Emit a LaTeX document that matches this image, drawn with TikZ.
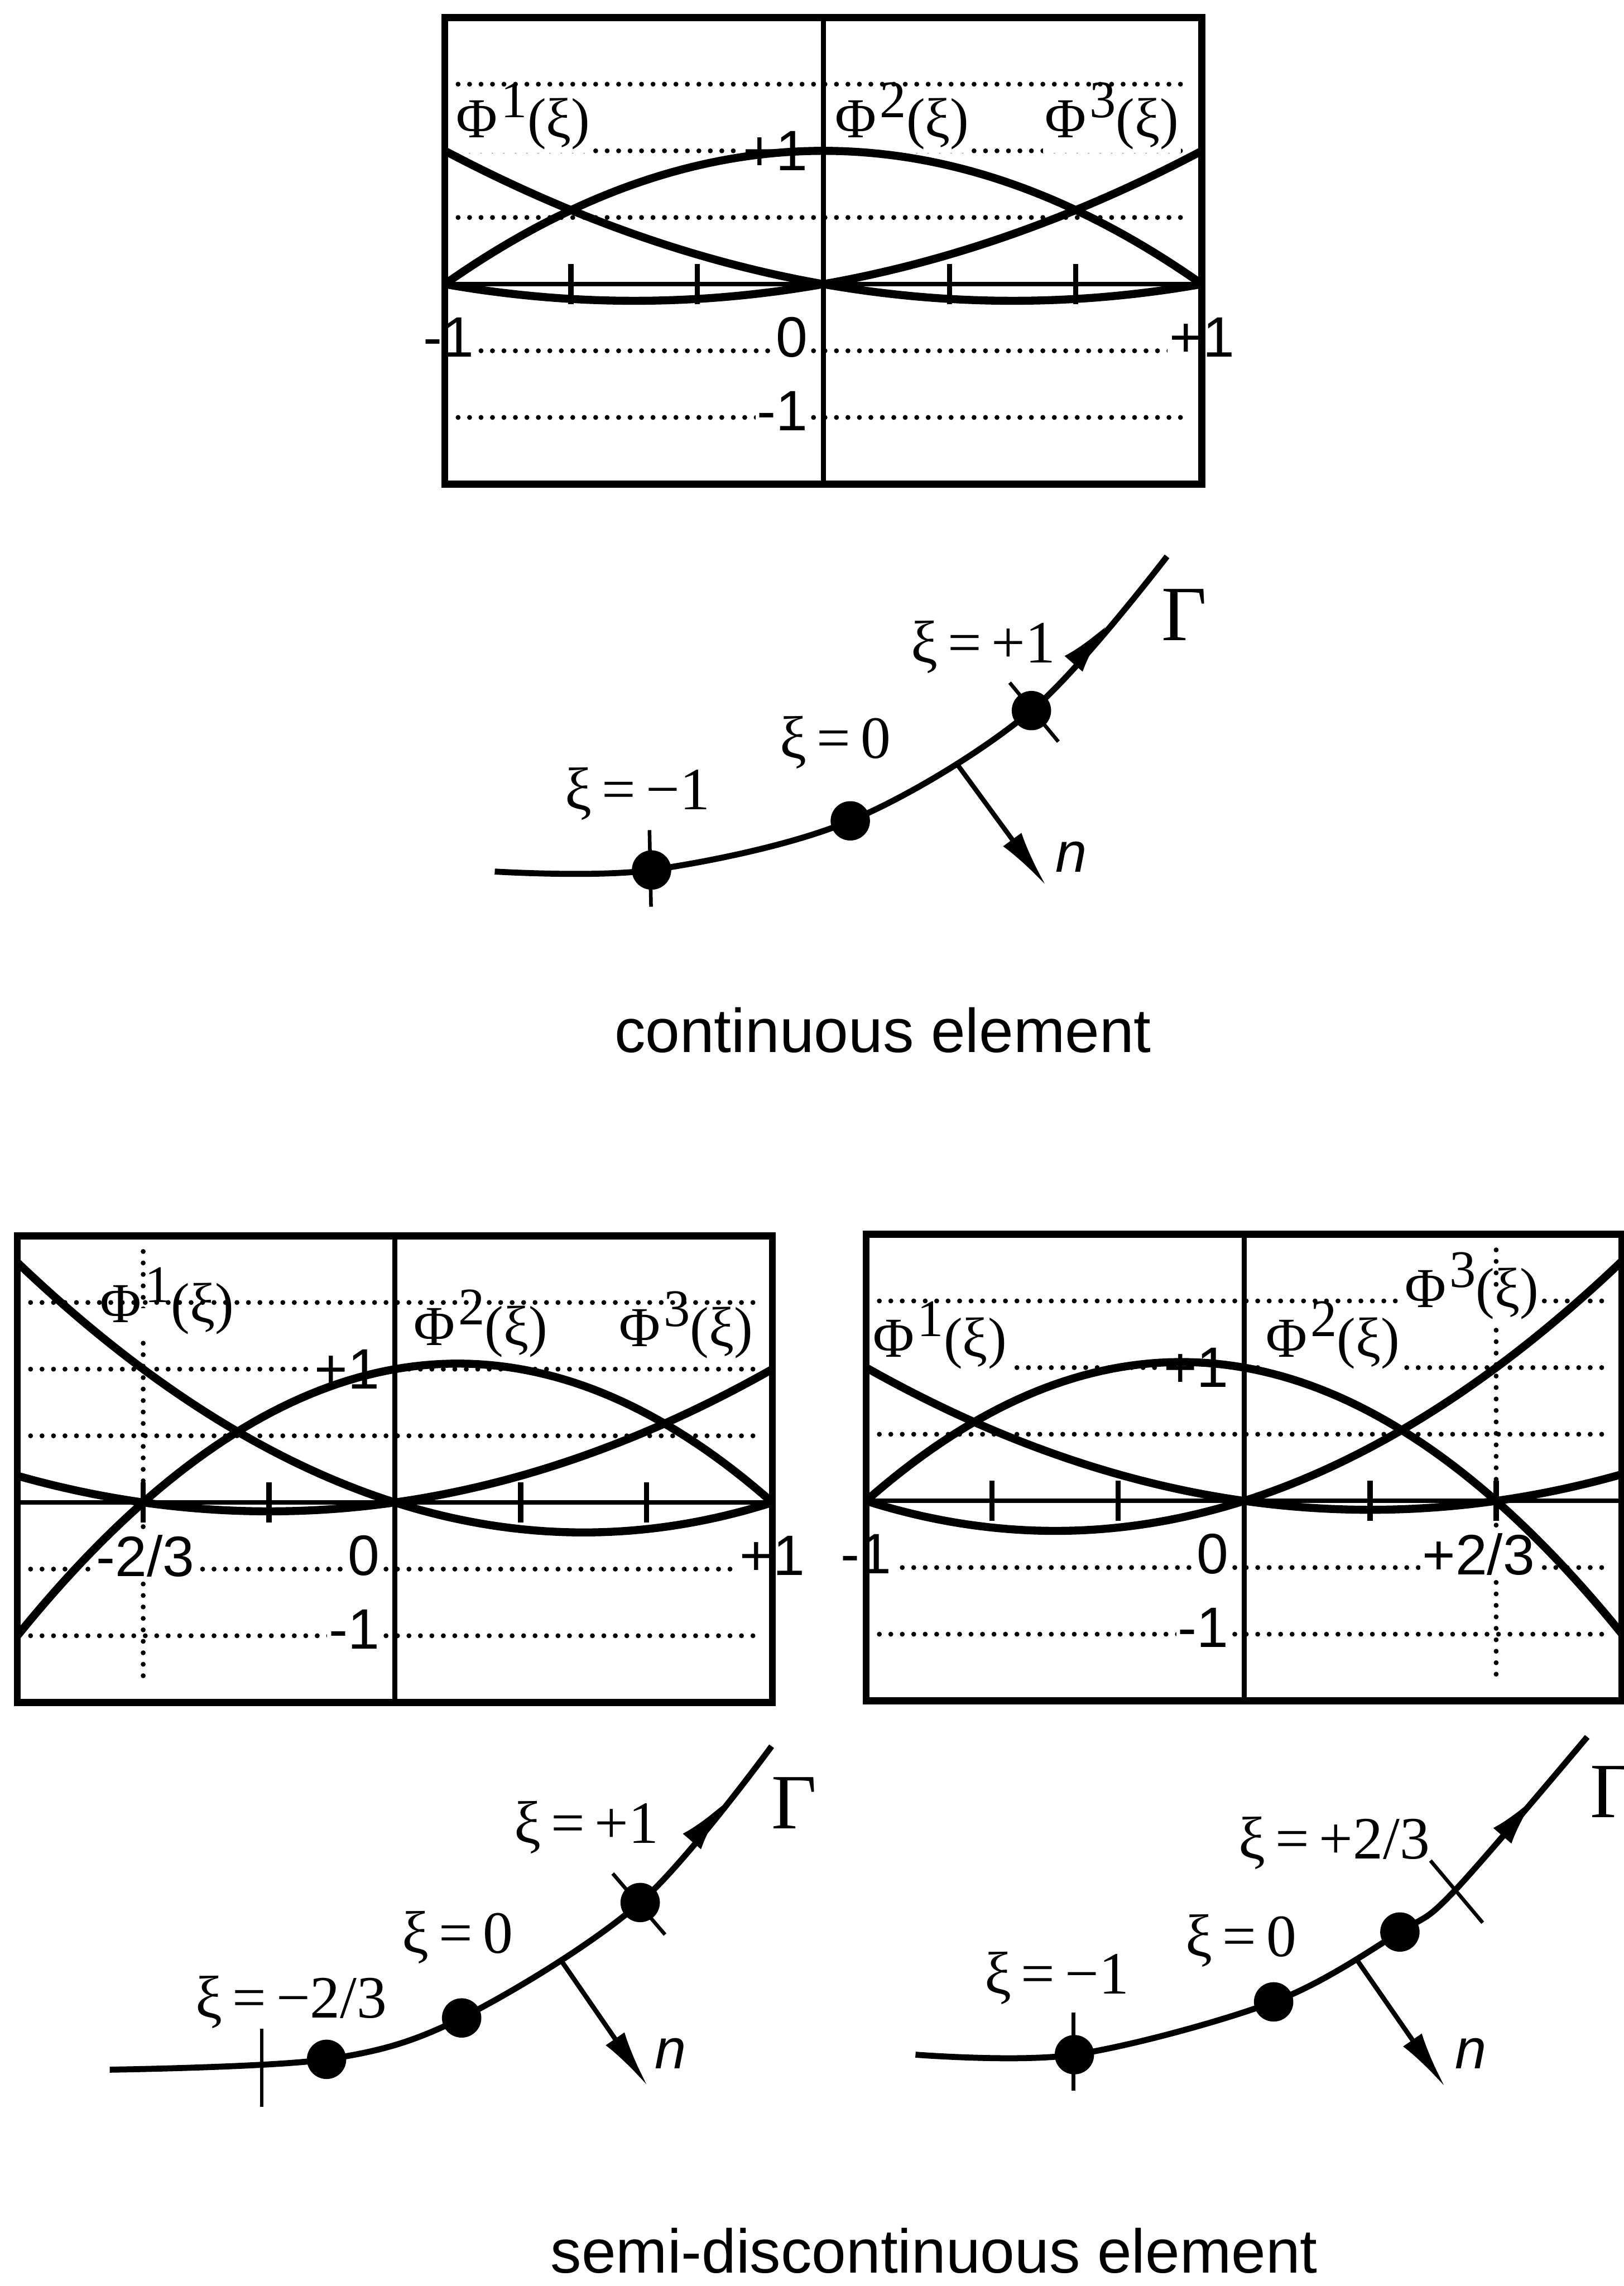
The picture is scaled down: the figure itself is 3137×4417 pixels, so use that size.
\documentclass[tikz,border=0pt]{standalone}
\usepackage{fontspec}
\setmainfont{Liberation Serif}
\newfontfamily\lsans{Liberation Sans}
\newfontfamily\lserif{Liberation Serif}
\usetikzlibrary{arrows.meta}
\newcommand{\philab}[1]{Φ\kern0.06em\raisebox{0.36em}{\fontsize{29}{30}\selectfont #1}(ξ)}
\tikzset{
  plotbox/.style={line width=3.8pt},
  midline/.style={line width=2.9pt},
  axisline/.style={line width=2.4pt},
  gridline/.style={line width=2.7pt, line cap=round, dash pattern=on 0pt off 6.3pt},
  fcurve/.style={line width=4.4pt, line join=round},
  axtick/.style={line width=2.9pt},
  lbl/.style={font=\lsans\fontsize{31.3}{36}\selectfont, fill=white, inner sep=1pt},
  philbl/.style={font=\lserif\fontsize{31}{36}\selectfont, fill=white, inner xsep=1pt, inner ysep=2pt, text height=0.6em, anchor=base west},
  gcurve/.style={line width=3.3pt, line join=round},
  garrow/.style={line width=3.3pt, -{Latex[length=1.0cm,width=0.46cm]}},
  narrow/.style={line width=2.6pt, -{Latex[length=1.1cm,width=0.44cm]}},
  etick/.style={line width=2pt},
  dotn/.style={circle, fill, inner sep=0pt, minimum size=0.76cm},
  xilbl/.style={font=\lserif\fontsize{33}{38}\selectfont, inner sep=0pt},
  gammalbl/.style={font=\lserif\fontsize{43}{50}\selectfont, inner sep=0pt},
  nlbl/.style={font=\lsans\itshape\fontsize{31}{36}\selectfont, inner sep=0pt},
  caption/.style={font=\lsans\fontsize{34}{40}\selectfont, anchor=base, inner sep=0pt},
}
\begin{document}
\begin{tikzpicture}[x=0.01cm, y=-0.01cm]
\useasboundingbox (0,0) rectangle (3137,4417);

% ================= top plot =================
\begin{scope}[shift={(1591,549)}, x=7.31cm, y=2.574cm]
  \foreach \v in {1.5,1,0.5,-0.5,-1} {\draw[gridline] (-0.965,\v) -- (0.965,\v);}
  \node[lbl] (pAxm) at (-0.99,-0.40) {-1};
  \node[lbl, anchor=east] (pAx0) at (-0.035,-0.40) {0};
  \node[lbl] (pAxp) at (1.0,-0.40) {+1};
  \node[lbl, anchor=east] (pAym) at (-0.035,-0.95) {-1};
  \node[lbl, anchor=east] (pAyp) at (-0.035,1.0) {+1};
  \node[philbl] (pAf1) at (-0.975,1.1) {\philab{1}};
  \node[philbl] (pAf2) at (0.026,1.1) {\philab{2}};
  \node[philbl] (pAf3) at (0.58,1.1) {\philab{3}};
  \draw[axisline] (-1,0) -- (1,0);
  \foreach \t in {-0.6667,-0.3333,0.3333,0.6667} {\draw[axtick] (\t,-0.15) -- (\t,0.15);}
  \draw[midline] (0,-1.5) -- (0,2);
  \draw[fcurve] plot[domain=-1:1, samples=81] (\x,{0.5*\x*(\x-1)});
  \draw[fcurve] plot[domain=-1:1, samples=81] (\x,{1-\x*\x});
  \draw[fcurve] plot[domain=-1:1, samples=81] (\x,{0.5*\x*(\x+1)});
  \draw[plotbox] (-1,-1.5) rectangle (1,2);
\end{scope}

% ================= bottom-left plot =================
\begin{scope}[shift={(763,2903)}, x=7.29cm, y=2.574cm]
  \foreach \v in {1.5,1,0.5,-0.5,-1} {\draw[gridline] (-0.965,\v) -- (0.965,\v);}
  \draw[gridline] (-0.6667,-1.3) -- (-0.6667,1.9);
  \node[lbl] (pBxm) at (-0.661,-0.40) {-2/3};
  \node[lbl, anchor=east] (pBx0) at (-0.035,-0.40) {0};
  \node[lbl] (pBxp) at (1.0,-0.40) {+1};
  \node[lbl, anchor=east] (pBym) at (-0.035,-0.95) {-1};
  \node[lbl, anchor=east] (pByp) at (-0.035,1.0) {+1};
  \node[philbl] (pBf1) at (-0.787,1.35) {\philab{1}};
  \node[philbl] (pBf2) at (0.044,1.18) {\philab{2}};
  \node[philbl] (pBf3) at (0.588,1.17) {\philab{3}};
  \draw[axisline] (-1,0) -- (1,0);
  \foreach \t in {-0.6667,-0.3333,0.3333,0.6667} {\draw[axtick] (\t,-0.15) -- (\t,0.15);}
  \draw[midline] (0,-1.5) -- (0,2);
  \draw[fcurve] plot[domain=-1:1, samples=81] (\x,{0.9*\x*(\x-1)});
  \draw[fcurve] plot[domain=-1:1, samples=81] (\x,{-1.5*(\x+0.6667)*(\x-1)});
  \draw[fcurve] plot[domain=-1:1, samples=81] (\x,{0.6*\x*(\x+0.6667)});
  \draw[plotbox] (-1,-1.5) rectangle (1,2);
\end{scope}

% ================= bottom-right plot =================
\begin{scope}[shift={(2404,2900)}, x=7.30cm, y=2.574cm]
  \foreach \v in {1.5,1,0.5,-0.5,-1} {\draw[gridline] (-0.965,\v) -- (0.965,\v);}
  \draw[gridline] (0.6667,-1.3) -- (0.6667,1.9);
  \node[lbl] (pCxm) at (-1.0,-0.40) {-1};
  \node[lbl, anchor=east] (pCx0) at (-0.035,-0.40) {0};
  \node[lbl] (pCxp) at (0.62,-0.40) {+2/3};
  \node[lbl, anchor=east] (pCym) at (-0.035,-0.95) {-1};
  \node[lbl, anchor=east] (pCyp) at (-0.035,1.0) {+1};
  \node[philbl] (pCf1) at (-0.988,1.08) {\philab{1}};
  \node[philbl] (pCf2) at (0.052,1.08) {\philab{2}};
  \node[philbl] (pCf3) at (0.42,1.45) {\philab{3}};
  \draw[axisline] (-1,0) -- (1,0);
  \foreach \t in {-0.6667,-0.3333,0.3333,0.6667} {\draw[axtick] (\t,-0.15) -- (\t,0.15);}
  \draw[midline] (0,-1.5) -- (0,2);
  \draw[fcurve] plot[domain=-1:1, samples=81] (\x,{0.6*\x*(\x-0.6667)});
  \draw[fcurve] plot[domain=-1:1, samples=81] (\x,{-1.5*(\x+1)*(\x-0.6667)});
  \draw[fcurve] plot[domain=-1:1, samples=81] (\x,{0.9*\x*(\x+1)});
  \draw[plotbox] (-1,-1.5) rectangle (1,2);
\end{scope}

% ================= top boundary sketch =================
\coordinate (s1) at (956,1684);
\coordinate (a1) at (1259,1681);
\coordinate (b1) at (1643,1586);
\coordinate (c1) at (1993,1373);
\coordinate (e1) at (2255,1075);
\draw[gcurve] plot[smooth, tension=0.55] coordinates {(s1) (a1) (b1) (c1) (e1)};
\coordinate (g1t) at (2075,1282); \coordinate (g1) at (2140,1207);
\draw[garrow] (g1t) -- (g1);
\coordinate (nb1) at (1849,1476); \coordinate (nt1) at (2021,1711);
\draw[narrow] (nb1) -- (nt1);
\coordinate (k1a) at (1255,1604); \coordinate (k1b) at (1258,1752);
\draw[etick] (k1a) -- (k1b);
\coordinate (k1c) at (1951,1319); \coordinate (k1d) at (2045,1433);
\draw[etick] (k1c) -- (k1d);
\node[dotn] (d1a) at (a1) {};
\node[dotn] (d1b) at (b1) {};
\node[dotn] (d1c) at (c1) {};
\node[xilbl] (l1a) at (1232,1534) {ξ\,=\,−1};
\node[xilbl] (l1b) at (1614,1435) {ξ\,=\,0};
\node[xilbl] (l1c) at (1900,1250) {ξ\,=\,+1};
\node[gammalbl] (l1g) at (2288,1188) {Γ};
\node[nlbl] (l1n) at (2070,1656) {n};
\node[caption] (cap1) at (1706,2033) {continuous element};

% ================= bottom-left boundary sketch =================
\coordinate (s2) at (212,3999);
\coordinate (a2) at (631,3979);
\coordinate (b2) at (892,3899);
\coordinate (c2) at (1237,3676);
\coordinate (e2) at (1491,3374);
\draw[gcurve] plot[smooth, tension=0.55] coordinates {(s2) (a2) (b2) (c2) (e2)};
\coordinate (g2t) at (1337,3558); \coordinate (g2) at (1402,3482);
\draw[garrow] (g2t) -- (g2);
\coordinate (nb2) at (1087,3792); \coordinate (nt2) at (1251,4030);
\draw[narrow] (nb2) -- (nt2);
\coordinate (k2a) at (506,3920); \coordinate (k2b) at (506,4071);
\draw[etick] (k2a) -- (k2b);
\coordinate (k2c) at (1184,3620); \coordinate (k2d) at (1285,3738);
\draw[etick] (k2c) -- (k2d);
\node[dotn] (d2a) at (a2) {};
\node[dotn] (d2b) at (b2) {};
\node[dotn] (d2c) at (c2) {};
\node[xilbl] (l2a) at (563,3869) {ξ\,=\,−2/3};
\node[xilbl] (l2b) at (884,3743) {ξ\,=\,0};
\node[xilbl] (l2c) at (1133,3531) {ξ\,=\,+1};
\node[gammalbl] (l2g) at (1535,3484) {Γ};
\node[nlbl] (l2n) at (1296,3968) {n};

% ================= bottom-right boundary sketch =================
\coordinate (s3) at (1769,3970);
\coordinate (a3) at (2076,3970);
\coordinate (b3) at (2461,3868);
\coordinate (c3) at (2705,3733);
\coordinate (x3) at (2810,3654);
\coordinate (e3) at (3067,3356);
\draw[gcurve] plot[smooth, tension=0.55] coordinates {(s3) (a3) (b3) (c3) (x3) (e3)};
\coordinate (g3t) at (2903,3547); \coordinate (g3) at (2968,3471);
\draw[garrow] (g3t) -- (g3);
\coordinate (nb3) at (2622,3787); \coordinate (nt3) at (2792,4032);
\draw[narrow] (nb3) -- (nt3);
\coordinate (k3a) at (2074,3889); \coordinate (k3b) at (2074,4039);
\draw[etick] (k3a) -- (k3b);
\coordinate (k3c) at (2764,3595); \coordinate (k3d) at (2865,3715);
\draw[etick] (k3c) -- (k3d);
\node[dotn] (d3a) at (a3) {};
\node[dotn] (d3b) at (b3) {};
\node[dotn] (d3c) at (c3) {};
\node[xilbl] (l3a) at (2042,3822) {ξ\,=\,−1};
\node[xilbl] (l3b) at (2398,3750) {ξ\,=\,0};
\node[xilbl] (l3c) at (2578,3561) {ξ\,=\,+2/3};
\node[gammalbl] (l3g) at (3117,3462) {Γ};
\node[nlbl] (l3n) at (2842,3968) {n};
\node[caption] (cap2) at (1805,4392) {semi-discontinuous element};
\end{tikzpicture}
\end{document}
